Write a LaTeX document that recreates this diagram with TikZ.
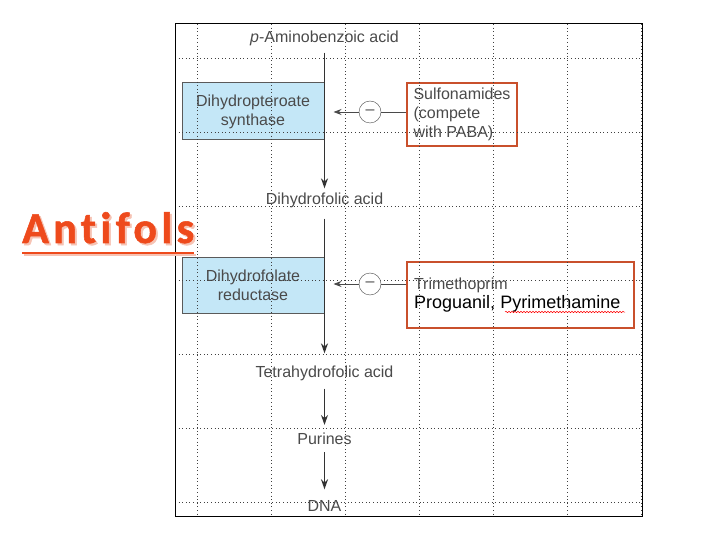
\documentclass[tikz,border=0pt]{standalone}
\usepackage{fontspec}
\setmainfont{Liberation Sans}
\newfontfamily\antifont[LetterSpace=10, Ligatures=NoCommon, BoldFeatures={FakeBold=1.2}]{Carlito}
\usepackage{xcolor}
\definecolor{ink}{HTML}{4A4A4A}
\definecolor{enzfill}{HTML}{C4E7F7}
\definecolor{enzedge}{HTML}{5A5A5A}
\definecolor{drugedge}{HTML}{C9502C}
\definecolor{antired}{HTML}{EE4A1C}
\definecolor{antishade}{HTML}{F6C3B4}
\usetikzlibrary{arrows.meta, positioning, calc, decorations.pathmorphing}

\begin{document}
\begin{tikzpicture}[
  x=1pt, y=-1pt,
  font=\fontsize{16}{19}\selectfont,
  metab/.style={text=ink, inner sep=2pt},
  enzyme/.style={
    draw=enzedge, fill=enzfill, line width=1pt, minimum width=142pt,
    minimum height=57pt, align=center, text=ink
  },
  drug/.style={draw=drugedge, line width=1.3pt, align=left, text=ink},
  minus/.style={circle, draw=ink, fill=white, minimum size=22pt, inner sep=0pt, text=ink},
  flow/.style={draw=black!80, line width=1.4pt, -{Stealth[length=10pt,width=7pt]}},
  block/.style={draw=ink, line width=0.9pt, -{Stealth[length=8pt,width=6pt]}},
  gridline/.style={black!75, line width=0.6pt, dash pattern=on 0.6pt off 3pt}
]
  \useasboundingbox (0,0) rectangle (720,540);

  % enzymes and drugs
  \node[enzyme] (dhps) at (253,111.5) {Dihydropteroate\\synthase};
  \node[enzyme, minimum height=56pt] (dhfr) at (253,285) {Dihydrofolate\\reductase};
  \node[drug, minimum width=110pt, minimum height=63pt] (sulfa) at (462,114.5)
    {Sulfonamides\\(compete\\with PABA)};
  \node[drug, minimum width=227pt, minimum height=66pt, text width=213pt] (tmp) at (520.5,295)
    {Trimethoprim\\[0pt]{\color{black}\fontsize{18}{20}\selectfont Proguanil, Pyrimethamine}};

  % dotted grid and frame
  \foreach \i in {0,...,6} {
    \draw[gridline] (197+74*\i,24) -- (197+74*\i,516);
    \draw[gridline] (175,58+74*\i) -- (642,58+74*\i);
  }
  \draw[black, line width=1pt] (175,24) rectangle (642,516);

  % pathway
  \node[metab] (paba) at (324.5,38) {\textit{p}-Aminobenzoic acid};
  \node[metab] (dhf) at (324.5,200) {Dihydrofolic acid};
  \node[metab] (thf) at (324.5,373) {Tetrahydrofolic acid};
  \node[metab] (pur) at (324.5,439) {Purines};
  \node[metab] (dna) at (324.5,506) {DNA};

  \draw[flow, shorten <=5pt, shorten >=2pt] (paba) -- (dhf);
  \draw[flow, shorten <=9pt, shorten >=10pt] (dhf) -- (thf);
  \draw[flow, shorten <=6pt, shorten >=6pt] (thf) -- (pur);
  \draw[flow, shorten <=5pt, shorten >=9pt] (pur) -- (dna);

  % inhibition
  \node[minus] (minus1) at (370,112) {--};
  \node[minus] (minus2) at (370,284) {--};
  \draw[block, shorten >=9pt] (minus1) -- (minus1 -| dhps.east);
  \draw[block, shorten >=9pt] (minus2) -- (minus2 -| dhfr.east);
  \draw[ink, line width=0.9pt] (minus1) -- (minus1 -| sulfa.west);
  \draw[ink, line width=0.9pt] (minus2) -- (minus2 -| tmp.west);
  \draw[red, line width=0.5pt, decorate, decoration={snake, amplitude=0.7pt, segment length=3pt}]
    (505,312) -- (625,312);

  % title with its shadow
  \node[antired, font=\antifont\bfseries\fontsize{44}{48}\selectfont, anchor=base west, inner sep=0pt]
    (antifols) at (22,243)
    {\makebox[0pt][l]{\hspace{2pt}\raisebox{-2pt}{\color{antishade}Antifols}}Antifols};
  \draw[antishade, line width=2.5pt] ($(antifols.base west)+(2,12)$) -- ($(antifols.base east)+(2,12)$);
  \draw[antired, line width=2.5pt] ($(antifols.base west)+(0,10)$) -- ($(antifols.base east)+(0,10)$);
\end{tikzpicture}
\end{document}
